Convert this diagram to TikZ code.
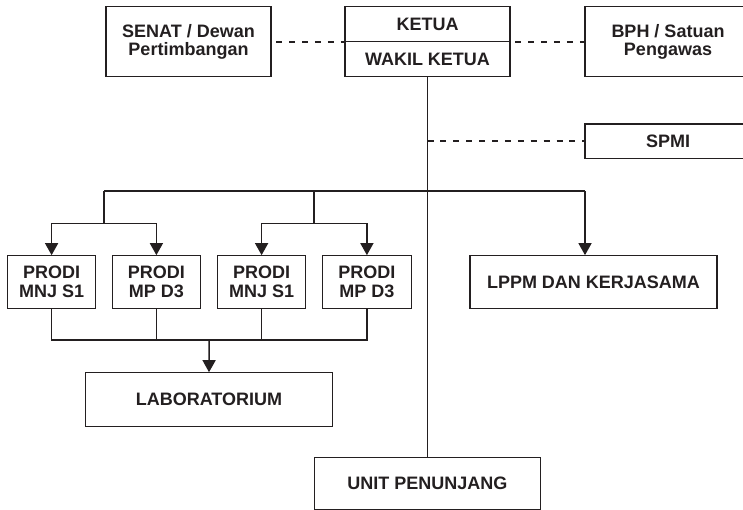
\documentclass[tikz,border=0pt]{standalone}
\usepackage{fontspec}
\setmainfont{Liberation Sans}
\usetikzlibrary{arrows.meta}
\definecolor{ink}{RGB}{35,31,32}
\begin{document}
\begin{tikzpicture}[x=1pt,y=-1pt,
  box/.style={draw=ink,line width=1.1pt,inner sep=0pt,align=center,
    font=\bfseries\fontsize{18}{18.5}\selectfont,text=ink},
  lbl/.style={inner sep=0pt,align=center,font=\bfseries\fontsize{18}{18.5}\selectfont,text=ink},
  conn/.style={draw=ink,line width=1.5pt,line join=miter},
  arr/.style={conn,-{Triangle[width=13pt,length=12pt]}},
  dots/.style={draw=ink,line width=2pt,dash pattern=on 6pt off 6.9pt},
  dotsgap/.style={dots,dash phase=8.2pt}]
\useasboundingbox (0,0) rectangle (743,509);
\clip (0,0) rectangle (743,509);
% top row
\node[box,minimum width=165pt,minimum height=70pt] (senat) at (188.5,41.7) {SENAT / Dewan\\Pertimbangan};
\node[box,minimum width=165pt,minimum height=70pt] (ketua) at (427.5,41.5) {};
\draw[draw=ink,line width=1.1pt] (ketua.west) -- (ketua.east);
\node[lbl] (ketuatxt) at (427.5,24.5) {KETUA};
\node[lbl] (wakil) at (427.5,59.3) {WAKIL KETUA};
\node[box,minimum width=166pt,minimum height=70pt] (bph) at (668,41.7) {BPH / Satuan\\Pengawas};
\node[box,minimum width=166pt,minimum height=34.7pt] (spmi) at (668,141.3) {SPMI};
% prodi row
\node[box,minimum width=88.3pt,minimum height=52.6pt] (p1) at (51.6,282) {PRODI\\MNJ S1};
\node[box,minimum width=88.3pt,minimum height=52.6pt] (p2) at (156.4,282) {PRODI\\MP D3};
\node[box,minimum width=88.3pt,minimum height=52.6pt] (p3) at (261.6,282) {PRODI\\MNJ S1};
\node[box,minimum width=88.3pt,minimum height=52.6pt] (p4) at (366.9,282) {PRODI\\MP D3};
\node[box,minimum width=247pt,minimum height=52.6pt] (lppm) at (593.5,282) {LPPM DAN KERJASAMA};
\node[box,minimum width=247.4pt,minimum height=53.3pt] (lab) at (209,399.4) {LABORATORIUM};
\node[box,minimum width=226.4pt,minimum height=52pt] (unit) at (427.5,483.3) {UNIT PENUNJANG};
% coordinates
\coordinate (bL) at (104,191);
\coordinate (bM) at (314,191);
\coordinate (bR) at (585,191);
\coordinate (sL) at (104,223.3);
\coordinate (sM) at (314,223.3);
\coordinate (lb) at (209.2,340);
% dotted links
\draw[dotsgap] (senat.east) -- (senat.east -| ketua.west);
\draw[dotsgap] (ketua.east) -- (ketua.east -| bph.west);
\draw[dots] (spmi.west -| ketua.south) -- (spmi.west);
% main trunk
\draw[conn] (ketua.south) -- (unit.north);
\draw[conn] (bL) -- (bR);
\draw[arr] (bR) -- (bR |- lppm.north);
\draw[conn] (bL) -- (sL);
\draw[conn] (bM) -- (sM);
\draw[conn] (p1.north |- sL) -- (p2.north |- sL);
\draw[conn] (p3.north |- sM) -- (p4.north |- sM);
\draw[arr] (p1.north |- sL) -- (p1.north);
\draw[arr] (p2.north |- sL) -- (p2.north);
\draw[arr] (p3.north |- sM) -- (p3.north);
\draw[arr] (p4.north |- sM) -- (p4.north);
% bottom collector
\draw[conn] (p1.south) |- (lb) -| (p4.south);
\draw[conn] (p2.south) -- (p2.south |- lb);
\draw[conn] (p3.south) -- (p3.south |- lb);
\draw[arr] (lb) -- (lab.north);
\end{tikzpicture}
\end{document}
